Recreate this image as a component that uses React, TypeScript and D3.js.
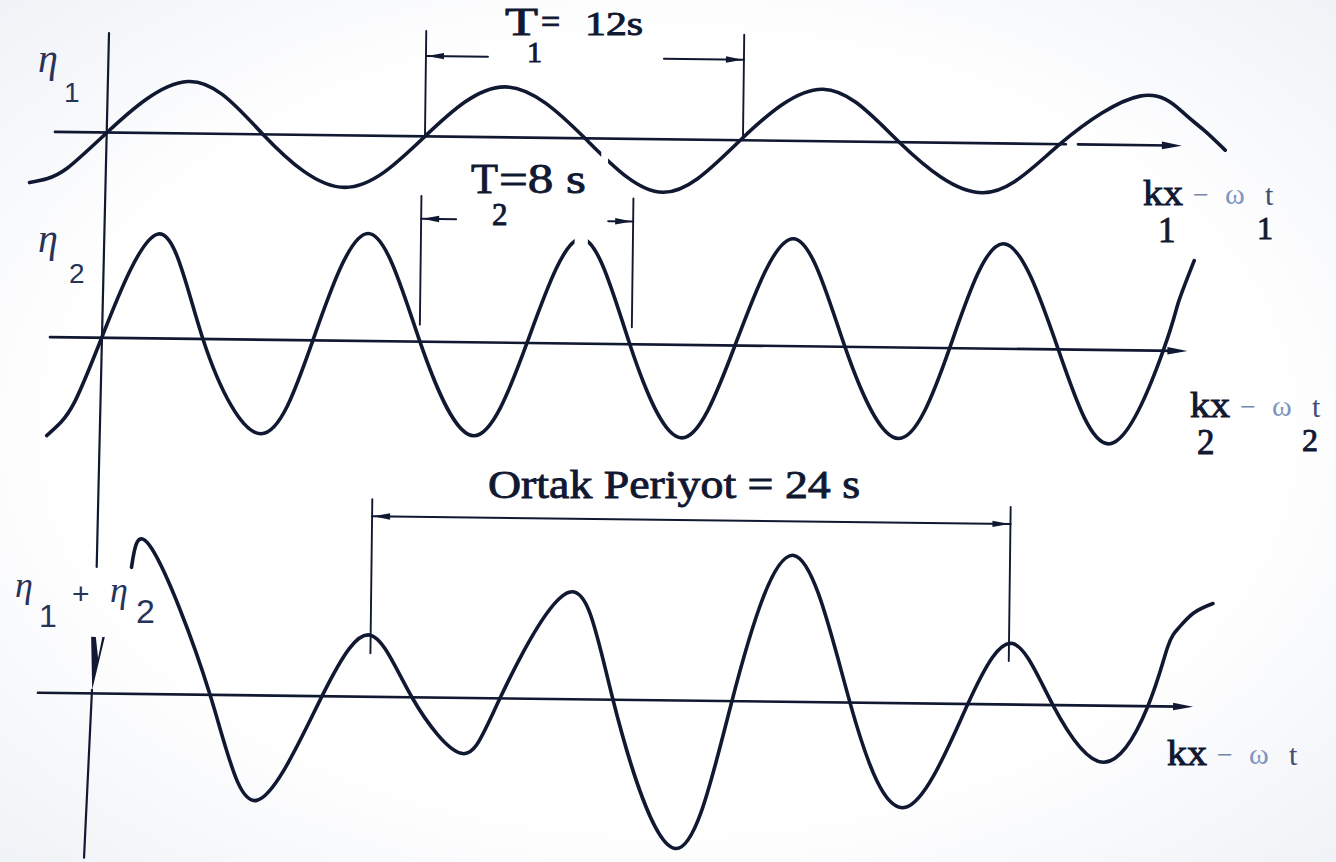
import React from "react";
import * as d3 from "d3";

// η1 : first component wave (period T1 = 12 s) — turning points, zero crossings and a few shoulders
const ETA1_T = [-2.9, -2.25, -1.5, 0, 3.03, 5.89, 9.0, 12.0, 15.0, 18.04, 21.0, 23.9, 27.0, 29.9, 33.08, 35.96, 38.96, 40.6, 41.4, 42.2];
const ETA1 = [-1.02, -0.94, -0.73, 0, 1.04, 0, -1.04, 0, 1.01, 0, -1.06, 0, 1.04, 0, -0.99, 0, 0.98, 0.66, 0.31, -0.08];

// η2 : second component wave (period T2 = 8 s)
const ETA2_T = [-2.03, -1.5, -1.0, 0, 2.09, 3.82, 6.05, 7.97, 10.01, 12.01, 14.09, 16.05, 18.05, 19.93, 21.93, 23.9, 26.05, 28.05, 30.12, 32.0, 33.97, 36.1, 38.14, 40.06, 40.6, 41.19];
const ETA2 = [-1.97, -1.7, -1.3, 0, 2.09, 0, -1.88, 0, 2.15, 0, -1.87, 0, 2.1, 0, -1.86, 0, 2.15, 0, -1.82, 0, 2.1, 0, -1.87, 0, 0.95, 1.81];

// η1 + η2 : superposition, repeating every 24 s
const SUM_T = [1.43, 2.18, 4.44, 6.24, 8.65, 10.45, 12.03, 13.91, 15.34, 17.89, 19.59, 21.99, 24.06, 26.32, 28.5, 30.64, 32.93, 34.59, 36.13, 38.08, 39.7, 40.41, 40.83, 41.39, 42.1];
const SUM = [2.53, 2.91, 0, -2.1, 0, 1.23, 0, -1.11, 0, 2.14, 0, -2.96, 0, 2.93, 0, -2.08, 0, 1.22, 0, -1.13, 0, 1.18, 1.58, 1.88, 2.07];

// periods written on the dimension lines (s)
const T1 = 12;
const T2 = 8;
const T_COMMON = 24;
const T1_START = 12;
const T2_START = 12;
const COMMON_START = 10.45;

const W = 1336;
const H = 862;
const INK = "#111831";
const LABEL_INK = "#27345a";
const SERIF = "'Liberation Serif', 'Times New Roman', serif";
const SANS = "'Liberation Sans', Arial, sans-serif";

// one x/y scale pair per panel (seconds -> px, amplitude -> px)
const x1 = d3.scaleLinear().domain([0, 40]).range([107, 107 + 26.5 * 40]);
const y1 = d3.scaleLinear().domain([-1, 1]).range([182.5, 82.5]);
const x2 = d3.scaleLinear().domain([0, 40]).range([104.2, 104.2 + 26.5 * 40]);
const y2 = d3.scaleLinear().domain([-2, 2]).range([437.8, 237.8]);
const x3 = d3.scaleLinear().domain([0, 40]).range([98.8, 98.8 + 26.6 * 40]);
const y3 = d3.scaleLinear().domain([-3, 3]).range([843.5, 543.5]);

function wavePath(ts: number[], vs: number[], x: d3.ScaleLinear<number, number>, y: d3.ScaleLinear<number, number>) {
  const gen = d3
    .line<number>()
    .x((_, i) => x(ts[i]))
    .y((v) => y(v))
    .curve(d3.curveNatural);
  return gen(vs) || "";
}

// filled arrowhead with its tip at (tx, ty), pointing along (dx, dy)
function arrowHead(tx: number, ty: number, dx: number, dy: number, len: number, half: number) {
  const n = Math.hypot(dx, dy);
  const ux = dx / n;
  const uy = dy / n;
  const bx = tx - ux * len;
  const by = ty - uy * len;
  return `${tx},${ty} ${bx - uy * half},${by + ux * half} ${bx + uy * half},${by - ux * half}`;
}

function Axis({ x0, x1e, y, gap }: { x0: number; x1e: number; y: number; gap?: [number, number] }) {
  const segs: [number, number][] = gap ? [[x0, gap[0]], [gap[1], x1e - 12]] : [[x0, x1e - 12]];
  return (
    <g>
      {segs.map((s, i) => (
        <line key={i} x1={s[0]} x2={s[1]} y1={y} y2={y} stroke={INK} strokeWidth={2.6} />
      ))}
      <polygon points={arrowHead(x1e, y, 1, 0, 20, 3.8)} fill={INK} />
    </g>
  );
}

function Dimension({
  xl,
  xr,
  y,
  top,
  bottomL,
  bottomR,
  segL,
  segR,
}: {
  xl: number;
  xr: number;
  y: number;
  top: number;
  bottomL: number;
  bottomR: number;
  segL: number;
  segR: number;
}) {
  return (
    <g stroke={INK}>
      <line x1={xl} x2={xl} y1={top} y2={bottomL} strokeWidth={1.9} />
      <line x1={xr} x2={xr} y1={top} y2={bottomR} strokeWidth={1.9} />
      <line x1={xl} x2={xl + segL} y1={y} y2={y} strokeWidth={2} />
      <line x1={xr - segR} x2={xr} y1={y} y2={y} strokeWidth={2} />
      <polygon points={arrowHead(xl + 1, y, -1, 0, 17, 3.2)} fill={INK} stroke="none" />
      <polygon points={arrowHead(xr - 1, y, 1, 0, 17, 3.2)} fill={INK} stroke="none" />
    </g>
  );
}

const heavy = { stroke: INK, strokeWidth: 0.9, paintOrder: "stroke" as const };

function PhaseLabel({ x, y, sub, subA, subB }: { x: number; y: number; sub: string; subA: number; subB: number }) {
  return (
    <g fontFamily={SERIF}>
      <text x={x} y={y} fontSize={36} fill={INK} {...heavy} textLength={40} lengthAdjust="spacingAndGlyphs">
        kx
      </text>
      <text x={x + 50} y={y - 1} fontSize={28} fill="#7486ab">
        −
      </text>
      <text x={x + 82} y={y - 1} fontSize={30} fill="#7f95c2">
        ω
      </text>
      <text x={x + 122} y={y} fontSize={30} fill="#3f4d72">
        t
      </text>
      {sub ? (
        <>
          <text x={x + subA} y={y + 37} fontSize={35} fill={INK} {...heavy}>
            {sub}
          </text>
          <text x={x + subB} y={y + 34} fontSize={32} fill={INK} {...heavy}>
            {sub}
          </text>
        </>
      ) : null}
    </g>
  );
}

export default function App() {
  const base1 = y1(0);
  const base2 = y2(0);
  const base3 = y3(0);
  const peakL = SUM[SUM_T.indexOf(COMMON_START)];

  return (
    <svg
      width={W}
      height={H}
      viewBox={`0 0 ${W} ${H}`}
      style={{ position: "absolute", left: 0, top: 0, display: "block" }}
    >
      <defs>
        <radialGradient id="paper" cx="50%" cy="50%" r="75%">
          <stop offset="0.6" stopColor="#ffffff" />
          <stop offset="1" stopColor="#edf0f5" />
        </radialGradient>
        {/* small breaks in the printed curves */}
        <mask id="breaks" maskUnits="userSpaceOnUse" x={0} y={0} width={W} height={H}>
          <rect x={-50} y={-50} width={W + 100} height={H + 100} fill="#fff" />
          <rect x={x1(18.66)} y={y1(-0.2)} width={x1(18.92) - x1(18.66)} height={y1(-0.75) - y1(-0.2)} fill="#000" />
          <rect x={x2(17.8)} y={y2(2.4)} width={x2(18.3) - x2(17.8)} height={y2(1.75) - y2(2.4)} fill="#000" />
        </mask>
      </defs>
      <rect x={0} y={0} width={W} height={H} fill="url(#paper)" />

      {/* axes, curves and dimension lines: the printed sheet sits slightly askew */}
      <g transform="rotate(0.7 107 132)" fill="none" strokeLinecap="round" strokeLinejoin="round">
        {/* vertical axis shared by the two upper panels */}
        <line x1={107.8} y1={33} x2={102} y2={567} stroke={INK} strokeWidth={2.2} />
        {/* lower vertical axis with its downward arrow */}
        <polygon points="97.3,637 102,637 104.5,658 108.5,637 111,637 99,690" fill={INK} stroke="none" />
        <line x1={98.8} y1={690} x2={92.9} y2={858} stroke={INK} strokeWidth={2.2} />

        <Axis x0={55} x1e={1182} y={base1} gap={[1066, 1078]} />
        <Axis x0={52.5} x1e={1190} y={base2} />
        <Axis x0={44.8} x1e={1200} y={base3} />

        <g mask="url(#breaks)">
          <path d={wavePath(ETA1_T, ETA1, x1, y1)} stroke={INK} strokeWidth={3.6} />
          <path d={wavePath(ETA2_T, ETA2, x2, y2)} stroke={INK} strokeWidth={3.6} />
        </g>
        <path d={wavePath(SUM_T, SUM, x3, y3)} stroke={INK} strokeWidth={3.6} />

        <Dimension
          xl={x1(T1_START)}
          xr={x1(T1_START + T1)}
          y={52}
          top={27}
          bottomL={base1}
          bottomR={base1}
          segL={62}
          segR={80}
        />
        <Dimension
          xl={x2(T2_START)}
          xr={x2(T2_START + T2)}
          y={215}
          top={192}
          bottomL={base2 - 17}
          bottomR={base2 - 17}
          segL={35}
          segR={25}
        />
        <Dimension
          xl={x3(COMMON_START)}
          xr={x3(COMMON_START + T_COMMON)}
          y={513}
          top={496}
          bottomL={y3(peakL) + 18}
          bottomR={y3(peakL) + 18}
          segL={x3(COMMON_START + T_COMMON) - x3(COMMON_START)}
          segR={0}
        />
      </g>

      {/* ordinate labels */}
      <g fill={LABEL_INK}>
        <text x={38} y={72} fontFamily={SERIF} fontStyle="italic" fontSize={40}>
          η
        </text>
        <text x={64} y={102} fontFamily={SANS} fontSize={28}>
          1
        </text>
        <text x={38} y={252} fontFamily={SERIF} fontStyle="italic" fontSize={40}>
          η
        </text>
        <text x={69} y={283} fontFamily={SANS} fontSize={28}>
          2
        </text>
        <text x={15} y={597} fontFamily={SERIF} fontStyle="italic" fontSize={36}>
          η
        </text>
        <text x={39} y={627} fontFamily={SANS} fontSize={32}>
          1
        </text>
        <text x={72} y={604} fontFamily={SANS} fontSize={30}>
          +
        </text>
        <text x={110} y={602} fontFamily={SERIF} fontStyle="italic" fontSize={36}>
          η
        </text>
        <text x={136} y={623} fontFamily={SANS} fontSize={34}>
          2
        </text>
      </g>

      {/* period annotations */}
      <g fontFamily={SERIF} fill={INK} {...heavy}>
        <text x={505} y={35} fontSize={40} textLength={33} lengthAdjust="spacingAndGlyphs">
          T
        </text>
        <text x={541} y={33} fontSize={34}>
          =
        </text>
        <text x={585} y={35} fontSize={33} textLength={58} lengthAdjust="spacingAndGlyphs">
          12s
        </text>
        <text x={527} y={62} fontSize={30}>
          1
        </text>

        <text x={471} y={193} fontSize={43} textLength={27} lengthAdjust="spacingAndGlyphs">
          T
        </text>
        <text x={499} y={193} fontSize={43} textLength={87} lengthAdjust="spacingAndGlyphs">
          =8 s
        </text>
        <text x={492} y={225} fontSize={31}>
          2
        </text>

        <text x={488} y={498} fontSize={41} textLength={372} lengthAdjust="spacingAndGlyphs">
          Ortak Periyot = 24 s
        </text>
      </g>

      <PhaseLabel x={1143} y={205} sub="1" subA={15} subB={114} />
      <PhaseLabel x={1190} y={417} sub="2" subA={7} subB={112} />
      <PhaseLabel x={1167} y={765} sub="" subA={0} subB={0} />
    </svg>
  );
}
